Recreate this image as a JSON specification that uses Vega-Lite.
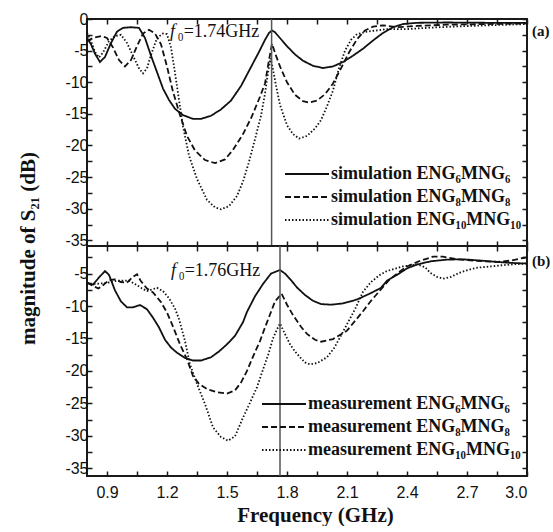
{
  "$schema": "https://vega.github.io/schema/vega-lite/v6.json",
  "padding": {"left": 16, "top": 10, "right": 0, "bottom": 0},
  "background": "white",
  "spacing": 0,
  "bounds": "flush",
  "config": {
    "view": {"stroke": "#1a1a1a", "strokeWidth": 2},
    "axis": {"domain": false, "grid": false, "tickColor": "#1a1a1a", "tickWidth": 1.5, "tickSize": -5, "labelFont": "Liberation Sans", "labelFontSize": 16, "labelColor": "#111", "labelOverlap": false, "titleFont": "Liberation Serif", "titleFontWeight": "bold", "titleFontSize": 21, "titleColor": "#111"},
    "legend": {"labelFont": "Liberation Serif", "labelFontWeight": "bold", "labelFontSize": 18, "labelColor": "#111", "symbolType": "M-2,0L2,0", "symbolSize": 484, "symbolStrokeWidth": 1.8, "symbolStrokeColor": "#111", "symbolFillColor": "transparent", "labelOffset": 12, "rowPadding": 2, "labelLimit": 400}
  },
  "resolve": {"scale": {"strokeDash": "independent"}, "legend": {"strokeDash": "independent"}},
  "datasets": {
    "sim": [
      {"f":0.80,"db":-3.0,"s":"6"},{"f":0.82,"db":-4.0,"s":"6"},{"f":0.84,"db":-5.5,"s":"6"},{"f":0.865,"db":-6.8,"s":"6"},{"f":0.89,"db":-6.0,"s":"6"},{"f":0.92,"db":-3.8,"s":"6"},{"f":0.95,"db":-2.0,"s":"6"},{"f":0.98,"db":-1.4,"s":"6"},{"f":1.02,"db":-1.3,"s":"6"},{"f":1.06,"db":-1.4,"s":"6"},{"f":1.09,"db":-3.0,"s":"6"},{"f":1.12,"db":-5.8,"s":"6"},{"f":1.15,"db":-8.4,"s":"6"},{"f":1.18,"db":-11.0,"s":"6"},{"f":1.21,"db":-12.8,"s":"6"},{"f":1.24,"db":-14.2,"s":"6"},{"f":1.28,"db":-15.2,"s":"6"},{"f":1.33,"db":-15.8,"s":"6"},{"f":1.37,"db":-15.8,"s":"6"},{"f":1.42,"db":-15.3,"s":"6"},{"f":1.47,"db":-14.3,"s":"6"},{"f":1.52,"db":-12.9,"s":"6"},{"f":1.57,"db":-10.6,"s":"6"},{"f":1.62,"db":-7.6,"s":"6"},{"f":1.66,"db":-5.2,"s":"6"},{"f":1.69,"db":-3.3,"s":"6"},{"f":1.71,"db":-2.2,"s":"6"},{"f":1.725,"db":-1.8,"s":"6"},{"f":1.74,"db":-2.1,"s":"6"},{"f":1.77,"db":-3.2,"s":"6"},{"f":1.80,"db":-4.3,"s":"6"},{"f":1.84,"db":-5.6,"s":"6"},{"f":1.88,"db":-6.6,"s":"6"},{"f":1.93,"db":-7.4,"s":"6"},{"f":1.98,"db":-7.75,"s":"6"},{"f":2.03,"db":-7.5,"s":"6"},{"f":2.08,"db":-6.8,"s":"6"},{"f":2.13,"db":-5.8,"s":"6"},{"f":2.18,"db":-4.7,"s":"6"},{"f":2.23,"db":-3.4,"s":"6"},{"f":2.28,"db":-2.2,"s":"6"},{"f":2.33,"db":-1.3,"s":"6"},{"f":2.38,"db":-0.8,"s":"6"},{"f":2.45,"db":-0.6,"s":"6"},{"f":2.6,"db":-0.55,"s":"6"},{"f":2.8,"db":-0.6,"s":"6"},{"f":3.0,"db":-0.6,"s":"6"},
      {"f":0.80,"db":-3.5,"s":"8"},{"f":0.83,"db":-3.0,"s":"8"},{"f":0.87,"db":-2.7,"s":"8"},{"f":0.90,"db":-3.0,"s":"8"},{"f":0.93,"db":-4.5,"s":"8"},{"f":0.96,"db":-6.5,"s":"8"},{"f":0.99,"db":-7.5,"s":"8"},{"f":1.02,"db":-6.5,"s":"8"},{"f":1.05,"db":-4.3,"s":"8"},{"f":1.08,"db":-2.3,"s":"8"},{"f":1.11,"db":-1.7,"s":"8"},{"f":1.14,"db":-2.3,"s":"8"},{"f":1.17,"db":-4.0,"s":"8"},{"f":1.20,"db":-7.5,"s":"8"},{"f":1.23,"db":-11.5,"s":"8"},{"f":1.265,"db":-15.2,"s":"8"},{"f":1.30,"db":-18.5,"s":"8"},{"f":1.34,"db":-20.8,"s":"8"},{"f":1.39,"db":-22.3,"s":"8"},{"f":1.44,"db":-22.8,"s":"8"},{"f":1.49,"db":-22.2,"s":"8"},{"f":1.53,"db":-20.7,"s":"8"},{"f":1.58,"db":-18.2,"s":"8"},{"f":1.62,"db":-15.7,"s":"8"},{"f":1.665,"db":-12.3,"s":"8"},{"f":1.69,"db":-10.2,"s":"8"},{"f":1.71,"db":-6.5,"s":"8"},{"f":1.725,"db":-3.9,"s":"8"},{"f":1.745,"db":-5.8,"s":"8"},{"f":1.765,"db":-7.5,"s":"8"},{"f":1.80,"db":-10.0,"s":"8"},{"f":1.84,"db":-12.0,"s":"8"},{"f":1.88,"db":-13.0,"s":"8"},{"f":1.91,"db":-13.2,"s":"8"},{"f":1.95,"db":-12.9,"s":"8"},{"f":1.99,"db":-11.9,"s":"8"},{"f":2.03,"db":-10.2,"s":"8"},{"f":2.07,"db":-7.8,"s":"8"},{"f":2.11,"db":-5.3,"s":"8"},{"f":2.15,"db":-3.2,"s":"8"},{"f":2.19,"db":-1.8,"s":"8"},{"f":2.23,"db":-1.2,"s":"8"},{"f":2.28,"db":-1.0,"s":"8"},{"f":2.35,"db":-1.3,"s":"8"},{"f":2.45,"db":-1.1,"s":"8"},{"f":2.6,"db":-0.9,"s":"8"},{"f":2.8,"db":-0.8,"s":"8"},{"f":3.0,"db":-0.7,"s":"8"},
      {"f":0.80,"db":-2.2,"s":"10"},{"f":0.82,"db":-3.5,"s":"10"},{"f":0.84,"db":-5.2,"s":"10"},{"f":0.86,"db":-6.1,"s":"10"},{"f":0.88,"db":-5.3,"s":"10"},{"f":0.91,"db":-3.5,"s":"10"},{"f":0.94,"db":-2.7,"s":"10"},{"f":0.97,"db":-2.5,"s":"10"},{"f":1.00,"db":-3.8,"s":"10"},{"f":1.03,"db":-5.8,"s":"10"},{"f":1.06,"db":-7.8,"s":"10"},{"f":1.08,"db":-8.6,"s":"10"},{"f":1.10,"db":-7.8,"s":"10"},{"f":1.12,"db":-5.7,"s":"10"},{"f":1.15,"db":-3.0,"s":"10"},{"f":1.18,"db":-2.3,"s":"10"},{"f":1.20,"db":-2.4,"s":"10"},{"f":1.22,"db":-4.5,"s":"10"},{"f":1.24,"db":-8.5,"s":"10"},{"f":1.26,"db":-12.8,"s":"10"},{"f":1.28,"db":-17.0,"s":"10"},{"f":1.31,"db":-21.6,"s":"10"},{"f":1.35,"db":-25.3,"s":"10"},{"f":1.40,"db":-28.6,"s":"10"},{"f":1.44,"db":-29.8,"s":"10"},{"f":1.47,"db":-30.1,"s":"10"},{"f":1.51,"db":-29.6,"s":"10"},{"f":1.55,"db":-28.0,"s":"10"},{"f":1.58,"db":-25.7,"s":"10"},{"f":1.61,"db":-22.6,"s":"10"},{"f":1.64,"db":-19.0,"s":"10"},{"f":1.67,"db":-15.3,"s":"10"},{"f":1.69,"db":-11.8,"s":"10"},{"f":1.705,"db":-8.5,"s":"10"},{"f":1.718,"db":-6.2,"s":"10"},{"f":1.73,"db":-8.0,"s":"10"},{"f":1.745,"db":-10.5,"s":"10"},{"f":1.765,"db":-13.6,"s":"10"},{"f":1.80,"db":-16.8,"s":"10"},{"f":1.83,"db":-18.2,"s":"10"},{"f":1.86,"db":-18.9,"s":"10"},{"f":1.90,"db":-18.5,"s":"10"},{"f":1.94,"db":-17.3,"s":"10"},{"f":1.97,"db":-16.0,"s":"10"},{"f":2.00,"db":-13.8,"s":"10"},{"f":2.03,"db":-11.3,"s":"10"},{"f":2.06,"db":-7.8,"s":"10"},{"f":2.09,"db":-5.0,"s":"10"},{"f":2.12,"db":-3.3,"s":"10"},{"f":2.15,"db":-2.4,"s":"10"},{"f":2.20,"db":-2.0,"s":"10"},{"f":2.30,"db":-1.6,"s":"10"},{"f":2.40,"db":-1.6,"s":"10"},{"f":2.50,"db":-1.4,"s":"10"},{"f":2.63,"db":-1.2,"s":"10"},{"f":2.8,"db":-1.0,"s":"10"},{"f":3.0,"db":-0.8,"s":"10"}
    ],
    "meas": [
      {"f":0.80,"db":-6.4,"s":"6"},{"f":0.83,"db":-6.7,"s":"6"},{"f":0.86,"db":-5.6,"s":"6"},{"f":0.89,"db":-4.6,"s":"6"},{"f":0.91,"db":-5.2,"s":"6"},{"f":0.94,"db":-7.6,"s":"6"},{"f":0.97,"db":-9.3,"s":"6"},{"f":1.00,"db":-10.2,"s":"6"},{"f":1.03,"db":-10.2,"s":"6"},{"f":1.065,"db":-9.85,"s":"6"},{"f":1.10,"db":-10.5,"s":"6"},{"f":1.13,"db":-11.8,"s":"6"},{"f":1.16,"db":-13.3,"s":"6"},{"f":1.19,"db":-15.2,"s":"6"},{"f":1.22,"db":-16.4,"s":"6"},{"f":1.25,"db":-17.2,"s":"6"},{"f":1.29,"db":-18.0,"s":"6"},{"f":1.33,"db":-18.4,"s":"6"},{"f":1.37,"db":-18.4,"s":"6"},{"f":1.42,"db":-17.9,"s":"6"},{"f":1.46,"db":-17.0,"s":"6"},{"f":1.50,"db":-15.9,"s":"6"},{"f":1.54,"db":-14.6,"s":"6"},{"f":1.58,"db":-12.5,"s":"6"},{"f":1.60,"db":-10.9,"s":"6"},{"f":1.64,"db":-8.5,"s":"6"},{"f":1.68,"db":-6.6,"s":"6"},{"f":1.72,"db":-5.0,"s":"6"},{"f":1.765,"db":-4.45,"s":"6"},{"f":1.79,"db":-5.0,"s":"6"},{"f":1.82,"db":-6.0,"s":"6"},{"f":1.85,"db":-7.15,"s":"6"},{"f":1.89,"db":-8.3,"s":"6"},{"f":1.93,"db":-9.2,"s":"6"},{"f":1.97,"db":-9.7,"s":"6"},{"f":2.02,"db":-9.8,"s":"6"},{"f":2.08,"db":-9.6,"s":"6"},{"f":2.15,"db":-9.0,"s":"6"},{"f":2.22,"db":-8.0,"s":"6"},{"f":2.27,"db":-7.2,"s":"6"},{"f":2.30,"db":-6.1,"s":"6"},{"f":2.35,"db":-5.2,"s":"6"},{"f":2.40,"db":-4.2,"s":"6"},{"f":2.45,"db":-3.6,"s":"6"},{"f":2.52,"db":-3.1,"s":"6"},{"f":2.6,"db":-2.85,"s":"6"},{"f":2.68,"db":-2.8,"s":"6"},{"f":2.77,"db":-3.0,"s":"6"},{"f":2.87,"db":-3.25,"s":"6"},{"f":2.95,"db":-3.4,"s":"6"},{"f":3.0,"db":-3.45,"s":"6"},
      {"f":0.80,"db":-6.4,"s":"8"},{"f":0.83,"db":-6.9,"s":"8"},{"f":0.857,"db":-7.3,"s":"8"},{"f":0.88,"db":-6.8,"s":"8"},{"f":0.91,"db":-6.0,"s":"8"},{"f":0.94,"db":-5.9,"s":"8"},{"f":0.97,"db":-6.3,"s":"8"},{"f":1.00,"db":-6.4,"s":"8"},{"f":1.03,"db":-5.5,"s":"8"},{"f":1.05,"db":-5.1,"s":"8"},{"f":1.07,"db":-6.2,"s":"8"},{"f":1.10,"db":-7.3,"s":"8"},{"f":1.13,"db":-7.9,"s":"8"},{"f":1.17,"db":-9.4,"s":"8"},{"f":1.20,"db":-11.0,"s":"8"},{"f":1.225,"db":-12.8,"s":"8"},{"f":1.265,"db":-15.9,"s":"8"},{"f":1.30,"db":-18.2,"s":"8"},{"f":1.33,"db":-20.8,"s":"8"},{"f":1.36,"db":-22.0,"s":"8"},{"f":1.40,"db":-22.8,"s":"8"},{"f":1.45,"db":-23.3,"s":"8"},{"f":1.50,"db":-23.5,"s":"8"},{"f":1.54,"db":-23.0,"s":"8"},{"f":1.57,"db":-21.8,"s":"8"},{"f":1.60,"db":-20.0,"s":"8"},{"f":1.63,"db":-17.8,"s":"8"},{"f":1.665,"db":-15.4,"s":"8"},{"f":1.69,"db":-13.3,"s":"8"},{"f":1.715,"db":-11.3,"s":"8"},{"f":1.74,"db":-9.3,"s":"8"},{"f":1.773,"db":-8.1,"s":"8"},{"f":1.80,"db":-9.8,"s":"8"},{"f":1.83,"db":-11.4,"s":"8"},{"f":1.87,"db":-13.2,"s":"8"},{"f":1.90,"db":-14.3,"s":"8"},{"f":1.94,"db":-15.2,"s":"8"},{"f":1.97,"db":-15.5,"s":"8"},{"f":2.03,"db":-15.1,"s":"8"},{"f":2.10,"db":-13.8,"s":"8"},{"f":2.14,"db":-12.3,"s":"8"},{"f":2.18,"db":-10.8,"s":"8"},{"f":2.22,"db":-9.2,"s":"8"},{"f":2.265,"db":-7.6,"s":"8"},{"f":2.31,"db":-6.0,"s":"8"},{"f":2.35,"db":-5.0,"s":"8"},{"f":2.40,"db":-3.9,"s":"8"},{"f":2.46,"db":-3.1,"s":"8"},{"f":2.53,"db":-2.4,"s":"8"},{"f":2.58,"db":-2.4,"s":"8"},{"f":2.65,"db":-2.8,"s":"8"},{"f":2.75,"db":-3.05,"s":"8"},{"f":2.85,"db":-3.2,"s":"8"},{"f":2.92,"db":-3.0,"s":"8"},{"f":2.98,"db":-2.6,"s":"8"},{"f":3.0,"db":-2.5,"s":"8"},
      {"f":0.80,"db":-6.5,"s":"10"},{"f":0.84,"db":-6.6,"s":"10"},{"f":0.88,"db":-6.5,"s":"10"},{"f":0.92,"db":-6.3,"s":"10"},{"f":0.95,"db":-6.1,"s":"10"},{"f":0.98,"db":-6.1,"s":"10"},{"f":1.01,"db":-6.1,"s":"10"},{"f":1.04,"db":-6.6,"s":"10"},{"f":1.07,"db":-7.2,"s":"10"},{"f":1.10,"db":-7.7,"s":"10"},{"f":1.13,"db":-7.4,"s":"10"},{"f":1.15,"db":-7.2,"s":"10"},{"f":1.18,"db":-7.7,"s":"10"},{"f":1.21,"db":-8.8,"s":"10"},{"f":1.24,"db":-10.4,"s":"10"},{"f":1.26,"db":-12.0,"s":"10"},{"f":1.29,"db":-15.4,"s":"10"},{"f":1.315,"db":-19.0,"s":"10"},{"f":1.35,"db":-22.0,"s":"10"},{"f":1.39,"db":-25.1,"s":"10"},{"f":1.43,"db":-28.7,"s":"10"},{"f":1.47,"db":-30.2,"s":"10"},{"f":1.505,"db":-30.75,"s":"10"},{"f":1.54,"db":-30.1,"s":"10"},{"f":1.58,"db":-27.2,"s":"10"},{"f":1.615,"db":-24.9,"s":"10"},{"f":1.65,"db":-22.5,"s":"10"},{"f":1.68,"db":-19.8,"s":"10"},{"f":1.707,"db":-17.4,"s":"10"},{"f":1.73,"db":-15.0,"s":"10"},{"f":1.75,"db":-13.6,"s":"10"},{"f":1.765,"db":-12.7,"s":"10"},{"f":1.785,"db":-14.0,"s":"10"},{"f":1.815,"db":-15.9,"s":"10"},{"f":1.84,"db":-17.0,"s":"10"},{"f":1.865,"db":-17.9,"s":"10"},{"f":1.89,"db":-18.7,"s":"10"},{"f":1.915,"db":-19.0,"s":"10"},{"f":1.95,"db":-18.8,"s":"10"},{"f":2.00,"db":-17.9,"s":"10"},{"f":2.035,"db":-16.5,"s":"10"},{"f":2.065,"db":-14.85,"s":"10"},{"f":2.10,"db":-12.8,"s":"10"},{"f":2.14,"db":-10.5,"s":"10"},{"f":2.18,"db":-7.8,"s":"10"},{"f":2.22,"db":-6.3,"s":"10"},{"f":2.265,"db":-5.2,"s":"10"},{"f":2.30,"db":-4.6,"s":"10"},{"f":2.38,"db":-3.9,"s":"10"},{"f":2.45,"db":-3.6,"s":"10"},{"f":2.49,"db":-4.0,"s":"10"},{"f":2.515,"db":-4.85,"s":"10"},{"f":2.55,"db":-5.5,"s":"10"},{"f":2.58,"db":-5.8,"s":"10"},{"f":2.62,"db":-5.5,"s":"10"},{"f":2.665,"db":-4.85,"s":"10"},{"f":2.71,"db":-4.4,"s":"10"},{"f":2.75,"db":-4.1,"s":"10"},{"f":2.82,"db":-3.9,"s":"10"},{"f":2.88,"db":-3.7,"s":"10"},{"f":2.94,"db":-3.55,"s":"10"},{"f":3.0,"db":-3.45,"s":"10"}
    ]
  },
  "vconcat": [
    {
      "width": 440,
      "height": 227,
      "resolve": {"axis": {"x": "independent", "y": "independent"}},
      "layer": [
        {
          "data": {"name": "sim"},
          "mark": {"type": "line", "color": "#111", "strokeWidth": 1.8},
          "encoding": {
            "x": {"field": "f", "type": "quantitative", "scale": {"domain": [0.8, 3.0], "nice": false, "zero": false},
                  "axis": {"orient": "bottom", "title": null, "labels": false, "values": [0.9,1.05,1.2,1.35,1.5,1.65,1.8,1.95,2.1,2.25,2.4,2.55,2.7,2.85,3.0]}},
            "y": {"field": "db", "type": "quantitative", "scale": {"domain": [-35.9, 0], "nice": false, "zero": false},
                  "axis": {"orient": "left", "title": "magnitude of S₂₁ (dB)", "titleY": 229, "titlePadding": 26, "labelPadding": 4,
                           "values": [-35,-32.5,-30,-27.5,-25,-22.5,-20,-17.5,-15,-12.5,-10,-7.5,-5,-2.5,0],
                           "labelExpr": "datum.value % 5 == 0 ? '' + datum.value : ''"}},
            "strokeDash": {"field": "s", "type": "nominal",
                           "scale": {"domain": ["6", "8", "10"], "range": [[1, 0], [6, 3], [1.5, 2]]},
                           "legend": {"orient": "none", "legendX": 208, "legendY": 143, "title": null,
                                      "labelExpr": "datum.value == '6' ? 'simulation ENG₆MNG₆' : datum.value == '8' ? 'simulation ENG₈MNG₈' : 'simulation ENG₁₀MNG₁₀'"}}
          }
        },
        {
          "data": {"values": [{}]},
          "mark": {"type": "rule", "color": "#555", "strokeWidth": 1.5},
          "encoding": {
            "x": {"datum": 1.723, "type": "quantitative", "scale": {"domain": [0.8, 3.0], "nice": false, "zero": false},
                  "axis": {"orient": "top", "title": null, "labels": false, "values": [0.9,1.05,1.2,1.35,1.5,1.65,1.8,1.95,2.1,2.25,2.4,2.55,2.7,2.85,3.0]}}
          }
        },
        {
          "data": {"values": [{}]},
          "mark": {"type": "text", "font": "Liberation Serif", "fontWeight": "bold", "fontSize": 15, "align": "left", "baseline": "middle", "dx": 5, "color": "#111"},
          "encoding": {
            "x": {"datum": 3.0, "type": "quantitative", "scale": {"domain": [0.8, 3.0], "nice": false, "zero": false}, "axis": null},
            "y": {"datum": -1.9, "type": "quantitative", "scale": {"domain": [-35.9, 0], "nice": false, "zero": false},
                  "axis": {"orient": "right", "title": null, "labels": false, "values": [-35,-32.5,-30,-27.5,-25,-22.5,-20,-17.5,-15,-12.5,-10,-7.5,-5,-2.5,0]}},
            "text": {"value": "(a)"}
          }
        },
        {
          "data": {"values": [{}]},
          "mark": {"type": "text", "font": "Liberation Serif", "fontStyle": "italic", "fontSize": 18, "align": "left", "baseline": "alphabetic", "color": "#111"},
          "encoding": {
            "x": {"datum": 1.215, "type": "quantitative", "axis": null},
            "y": {"datum": -2.85, "type": "quantitative", "axis": null},
            "text": {"value": "f"}
          }
        },
        {
          "data": {"values": [{}]},
          "mark": {"type": "text", "font": "Liberation Serif", "fontSize": 18, "align": "left", "baseline": "alphabetic", "color": "#111"},
          "encoding": {
            "x": {"datum": 1.252, "type": "quantitative", "axis": null},
            "y": {"datum": -2.85, "type": "quantitative", "axis": null},
            "text": {"value": "₀=1.74GHz"}
          }
        }
      ]
    },
    {
      "width": 440,
      "height": 230,
      "resolve": {"axis": {"x": "independent", "y": "independent"}},
      "layer": [
        {
          "data": {"name": "meas"},
          "mark": {"type": "line", "color": "#111", "strokeWidth": 1.8},
          "encoding": {
            "x": {"field": "f", "type": "quantitative", "scale": {"domain": [0.8, 3.0], "nice": false, "zero": false},
                  "axis": {"orient": "bottom", "title": "Frequency (GHz)", "titlePadding": 4, "labelPadding": 13, "titleX": 228,
                           "values": [0.9,1.05,1.2,1.35,1.5,1.65,1.8,1.95,2.1,2.25,2.4,2.55,2.7,2.85,3.0],
                           "labelExpr": "indexof([0.9,1.2,1.5,1.8,2.1,2.4,2.7,3.0], datum.value) >= 0 ? format(datum.value, '.1f') : ''"}},
            "y": {"field": "db", "type": "quantitative", "scale": {"domain": [-36.2, -0.75], "nice": false, "zero": false},
                  "axis": {"orient": "left", "title": null, "labelPadding": 4,
                           "values": [-35,-32.5,-30,-27.5,-25,-22.5,-20,-17.5,-15,-12.5,-10,-7.5,-5,-2.5],
                           "labelExpr": "datum.value % 5 == 0 ? '' + datum.value : ''"}},
            "strokeDash": {"field": "s", "type": "nominal",
                           "scale": {"domain": ["6", "8", "10"], "range": [[1, 0], [6, 3], [1.5, 2]]},
                           "legend": {"orient": "none", "legendX": 185, "legendY": 146, "title": null,
                                      "labelExpr": "datum.value == '6' ? 'measurement ENG₆MNG₆' : datum.value == '8' ? 'measurement ENG₈MNG₈' : 'measurement ENG₁₀MNG₁₀'"}}
          }
        },
        {
          "data": {"values": [{}]},
          "mark": {"type": "rule", "color": "#555", "strokeWidth": 1.5},
          "encoding": {
            "x": {"datum": 1.765, "type": "quantitative", "scale": {"domain": [0.8, 3.0], "nice": false, "zero": false},
                  "axis": {"orient": "top", "title": null, "labels": false, "values": [0.9,1.05,1.2,1.35,1.5,1.65,1.8,1.95,2.1,2.25,2.4,2.55,2.7,2.85,3.0]}}
          }
        },
        {
          "data": {"values": [{}]},
          "mark": {"type": "text", "font": "Liberation Serif", "fontWeight": "bold", "fontSize": 15, "align": "left", "baseline": "middle", "dx": 5, "color": "#111"},
          "encoding": {
            "x": {"datum": 3.0, "type": "quantitative", "scale": {"domain": [0.8, 3.0], "nice": false, "zero": false}, "axis": null},
            "y": {"datum": -3.1, "type": "quantitative", "scale": {"domain": [-36.2, -0.75], "nice": false, "zero": false},
                  "axis": {"orient": "right", "title": null, "labels": false, "values": [-35,-32.5,-30,-27.5,-25,-22.5,-20,-17.5,-15,-12.5,-10,-7.5,-5,-2.5]}},
            "text": {"value": "(b)"}
          }
        },
        {
          "data": {"values": [{}]},
          "mark": {"type": "text", "font": "Liberation Serif", "fontStyle": "italic", "fontSize": 18, "align": "left", "baseline": "alphabetic", "color": "#111"},
          "encoding": {
            "x": {"datum": 1.22, "type": "quantitative", "axis": null},
            "y": {"datum": -5.4, "type": "quantitative", "axis": null},
            "text": {"value": "f"}
          }
        },
        {
          "data": {"values": [{}]},
          "mark": {"type": "text", "font": "Liberation Serif", "fontSize": 18, "align": "left", "baseline": "alphabetic", "color": "#111"},
          "encoding": {
            "x": {"datum": 1.257, "type": "quantitative", "axis": null},
            "y": {"datum": -5.4, "type": "quantitative", "axis": null},
            "text": {"value": "₀=1.76GHz"}
          }
        }
      ]
    }
  ]
}
